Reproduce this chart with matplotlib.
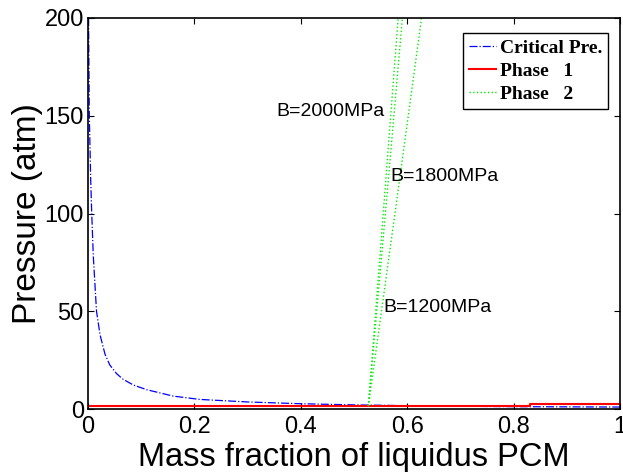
import numpy as np
import matplotlib.pyplot as plt

# Critical pressure vs liquid mass fraction
crit_x = [0.001, 0.0025, 0.005, 0.007, 0.01, 0.016, 0.0226, 0.032, 0.041, 0.054,
          0.066, 0.085, 0.11, 0.16, 0.21, 0.3, 0.4, 0.5, 0.6, 0.7, 0.8, 0.9, 1.0]
crit_p = [200, 150, 118, 100, 78, 50, 38, 28, 22.5, 18,
          15.2, 12.3, 9.9, 6.6, 4.9, 3.6, 2.7, 2.1, 1.7, 1.4, 1.2, 1.1, 1.0]

# Phase 1 pressure (piecewise constant)
phase1_x = [0.0, 0.35, 0.35, 0.83, 0.83, 1.0]
phase1_p = [1.4, 1.4, 1.6, 1.6, 2.6, 2.6]

# Phase 2 pressure for three bulk moduli
bulk_mod = [2000, 1800, 1200]
phase2_x = {2000: [0.527, 0.555, 0.583],
            1800: [0.527, 0.559, 0.591],
            1200: [0.527, 0.577, 0.627]}
phase2_p = [1.5, 100, 200]

# Label anchor points (x, P)
label_pos = {2000: (0.355, 152), 1800: (0.568, 119), 1200: (0.556, 52)}

plt.rcParams['font.family'] = 'Liberation Sans'

fig = plt.figure(figsize=(6.23, 4.72), dpi=100)
ax = fig.add_axes([88 / 623, 1 - 409 / 472, 532 / 623, 391 / 472])

ax.plot(crit_x, crit_p, color='blue', linestyle='-.', linewidth=0.9, label='Critical Pre.')
ax.plot(phase1_x, phase1_p, color='red', linestyle='-', linewidth=1.5, label='Phase   1')
for i, b in enumerate(bulk_mod):
    ax.plot(phase2_x[b], phase2_p, color='#00ee00', linestyle=':', linewidth=1.0,
            label='Phase   2' if i == 0 else None)
    lx, ly = label_pos[b]
    ax.text(lx, ly, f'B={b}MPa', fontsize=14, va='center', ha='left')

ax.set_xlim(0, 1)
ax.set_ylim(0, 200)
ax.set_xticks([0, 0.2, 0.4, 0.6, 0.8, 1])
ax.set_xticklabels(['0', '0.2', '0.4', '0.6', '0.8', '1'])
ax.set_yticks([0, 50, 100, 150, 200])
ax.tick_params(direction='in', top=True, right=True, labelsize=17, length=4)
ax.tick_params(axis='x', pad=5)
ax.tick_params(axis='y', pad=3)
for s in ax.spines.values():
    s.set_linewidth(1.2)

ax.set_xlabel('Mass fraction of liquidus PCM', fontsize=23.5, labelpad=3)
ax.set_ylabel('Pressure (atm)', fontsize=24, labelpad=1)

leg = ax.legend(loc='upper right', bbox_to_anchor=(0.9775, 0.961), fancybox=False,
                framealpha=1, edgecolor='black', handlelength=1.4, handletextpad=0.2,
                borderpad=0.3, labelspacing=0.28, borderaxespad=0,
                prop={'family': 'Liberation Serif', 'weight': 'bold', 'size': 14})
leg.get_frame().set_linewidth(1.0)

plt.savefig('out.png', dpi=100)
